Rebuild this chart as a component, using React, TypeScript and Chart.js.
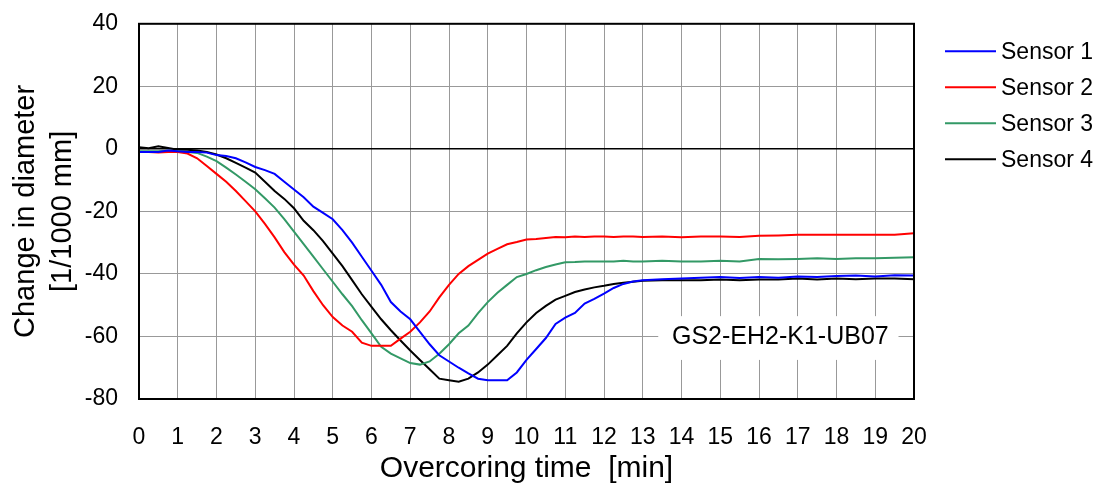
import React, { useEffect, useRef } from 'react';
import { Chart, registerables } from 'chart.js';

Chart.register(...registerables);

// ---- data ----
const timeMin = [
  0, 0.25, 0.5, 0.75, 1, 1.25, 1.5, 1.75, 2, 2.25, 2.5, 2.75, 3, 3.25, 3.5, 3.75,
  4, 4.25, 4.5, 4.75, 5, 5.25, 5.5, 5.75, 6, 6.25, 6.5, 6.75, 7, 7.25, 7.5, 7.75,
  8, 8.25, 8.5, 8.75, 9, 9.25, 9.5, 9.75, 10, 10.25, 10.5, 10.75, 11, 11.25, 11.5, 11.75,
  12, 12.25, 12.5, 12.75, 13, 13.5, 14, 14.5, 15, 15.5, 16, 16.5, 17, 17.5, 18, 18.5,
  19, 19.5, 20,
];

const sensor1 = [
  -1, -1, -1, -0.5, -0.8, -1, -1, -1.2, -2, -2.3, -3, -4.3, -5.8, -6.8, -8, -10.5,
  -13, -15.5, -18.5, -20.5, -22.5, -26, -30, -34.5, -39, -43.5, -49, -52, -54.5, -58.5, -62.5, -66,
  -68, -70, -71.8, -73.5, -74, -74, -74, -71.5, -67.5, -64, -60.5, -56, -54, -52.5, -49.5, -48,
  -46.3, -44.5, -43.2, -42.4, -42, -41.7, -41.5, -41.2, -41, -41.3, -41, -41.2, -40.8, -41, -40.7, -40.5,
  -40.8, -40.4, -40.5,
];

const sensor2 = [
  -1, -1, -1.2, -1, -1, -1.5, -3, -5.5, -8, -10.5, -13.5, -16.7, -20, -24, -28.3, -33,
  -37, -40.5, -45.5, -50, -53.8, -56.5, -58.5, -62, -63, -63, -63, -60.7, -58.5, -55.5, -52, -47.5,
  -43.5, -40, -37.5, -35.5, -33.5, -32, -30.5, -29.8, -29, -28.8, -28.5, -28.2, -28.3, -28, -28.2, -28,
  -28, -28.2, -28, -28, -28.2, -28, -28.3, -28, -28, -28.2, -27.8, -27.7, -27.5, -27.5, -27.5, -27.5,
  -27.5, -27.5, -27,
];

const sensor3 = [
  -0.8, -0.8, -0.8, -0.6, -0.8, -1, -1.3, -2.5, -3.9, -6, -8.2, -10.5, -12.9, -15.8, -18.8, -22.5,
  -26.5, -30.5, -34.5, -38.5, -42.5, -46.5, -50.3, -54.8, -59, -63.3, -65.5, -67, -68.5, -69, -68, -65.5,
  -62.5, -59, -56.5, -52.5, -49, -46, -43.5, -41, -40, -38.8, -37.8, -37, -36.3, -36.2, -36, -36,
  -36, -36, -35.8, -36, -36, -35.8, -36, -36, -35.8, -36, -35.2, -35.3, -35.2, -35, -35.2, -35,
  -35, -34.8, -34.7,
];

const sensor4 = [
  0.5, 0.2, 0.8, 0.3, -0.3, -0.3, -0.5, -1, -1.8, -3, -4.5, -6, -7.6, -10.5, -13.5, -16,
  -19, -23, -26, -29.5, -33.5, -37.5, -42, -46.5, -50.5, -54.5, -58, -61.3, -64.5, -67.5, -70.5, -73.5,
  -74, -74.5, -73.5, -71.5, -69, -66, -63, -59, -55.5, -52.5, -50.2, -48.2, -47, -45.8, -45, -44.3,
  -43.8, -43.2, -42.8, -42.5, -42.2, -42, -42, -42, -41.8, -42, -41.8, -41.8, -41.5, -41.8, -41.5, -41.7,
  -41.5, -41.5, -41.7,
];

const seriesLabels = ['Sensor 1', 'Sensor 2', 'Sensor 3', 'Sensor 4'];
const seriesValues = [sensor1, sensor2, sensor3, sensor4];
const seriesColors = ['#0000FF', '#FF0000', '#339966', '#000000'];

const X_MIN = 0;
const X_MAX = 20;
const X_STEP = 1;
const Y_MIN = -80;
const Y_MAX = 40;
const Y_STEP = 20;

const xAxisTitle = 'Overcoring time  [min]';
const yAxisTitle = ['Change in diameter', '[1/1000 mm]'];
const sampleLabel = 'GS2-EH2-K1-UB07';

const FONT = "'Liberation Sans', Arial, Helvetica, sans-serif";

// canvas is shifted up inside the page so the plot area starts where the reference's does
const CANVAS_SHIFT = 11;

// annotation box in data units (time, value)
const labelBox = { x0: 13.4, x1: 19.6, y0: -53.5, y1: -67.5, cx: 16.55, cy: -60.3 };

const framePlugin = {
  id: 'frame',
  beforeDatasetsDraw(chart: any) {
    const { ctx, scales } = chart;
    const xs = scales.x;
    const ys = scales.y;
    const l = xs.getPixelForValue(labelBox.x0);
    const r = xs.getPixelForValue(labelBox.x1);
    const t = ys.getPixelForValue(labelBox.y0);
    const b = ys.getPixelForValue(labelBox.y1);
    ctx.save();
    ctx.fillStyle = '#ffffff';
    ctx.fillRect(l, t, r - l, b - t);
    ctx.fillStyle = '#000';
    ctx.font = `25px ${FONT}`;
    ctx.textAlign = 'center';
    ctx.textBaseline = 'middle';
    ctx.fillText(sampleLabel, xs.getPixelForValue(labelBox.cx), ys.getPixelForValue(labelBox.cy));
    ctx.restore();
  },
  afterDatasetsDraw(chart: any) {
    const { ctx, chartArea } = chart;
    ctx.save();
    ctx.strokeStyle = '#000';
    ctx.lineWidth = 2;
    ctx.strokeRect(chartArea.left, chartArea.top, chartArea.right - chartArea.left, chartArea.bottom - chartArea.top);
    ctx.restore();
  },
  afterDraw(chart: any) {
    const { ctx, chartArea } = chart;
    const x0 = chartArea.right + 31;
    const lineLen = 51;
    const y0 = chartArea.top + 27.5;
    const step = 36;
    ctx.save();
    ctx.font = `23px ${FONT}`;
    ctx.textBaseline = 'middle';
    ctx.textAlign = 'left';
    chart.data.datasets.forEach((ds: any, i: number) => {
      const y = y0 + i * step;
      ctx.strokeStyle = ds.borderColor;
      ctx.lineWidth = 2;
      ctx.beginPath();
      ctx.moveTo(x0, y);
      ctx.lineTo(x0 + lineLen, y);
      ctx.stroke();
      ctx.fillStyle = '#000';
      ctx.fillText(ds.label, x0 + lineLen + 5, y + 1);
    });
    ctx.restore();
  },
};

export default function App() {
  const canvasRef = useRef<HTMLCanvasElement | null>(null);

  useEffect(() => {
    const canvas = canvasRef.current;
    if (!canvas) return;
    const chart = new Chart(canvas, {
      type: 'line',
      data: {
        datasets: seriesLabels.map((label, i) => ({
          label,
          data: timeMin.map((t, j) => ({ x: t, y: seriesValues[i][j] })),
          borderColor: seriesColors[i],
          backgroundColor: seriesColors[i],
          borderWidth: 2,
          pointRadius: 0,
          tension: 0,
          fill: false,
        })),
      },
      options: {
        animation: false,
        responsive: false,
        devicePixelRatio: 1,
        layout: { padding: { top: 8, right: 194, bottom: 0, left: 0 } },
        plugins: {
          legend: { display: false },
          tooltip: { enabled: false },
        },
        scales: {
          x: {
            type: 'linear',
            min: X_MIN,
            max: X_MAX,
            afterFit: (s: any) => { s.height = 90; },
            ticks: {
              stepSize: X_STEP,
              autoSkip: false,
              maxRotation: 0,
              color: '#000',
              padding: 25,
              font: { family: FONT, size: 23 },
            },
            grid: { color: '#999999', lineWidth: 1, drawTicks: false },
            border: { display: false },
            title: {
              display: true,
              text: xAxisTitle,
              color: '#000',
              font: { family: FONT, size: 30 },
              padding: { top: 0, bottom: 2 },
            },
          },
          y: {
            type: 'linear',
            min: Y_MIN,
            max: Y_MAX,
            afterFit: (s: any) => { s.width = 139; },
            ticks: {
              stepSize: Y_STEP,
              color: '#000',
              padding: 21,
              font: { family: FONT, size: 23 },
            },
            grid: {
              color: (c: any) => (c.tick && c.tick.value === 0 ? '#000000' : '#999999'),
              lineWidth: (c: any) => (c.tick && c.tick.value === 0 ? 1.5 : 1),
              drawTicks: false,
            },
            border: { display: false },
            title: {
              display: true,
              text: yAxisTitle,
              color: '#000',
              font: { family: FONT, size: 29, lineHeight: 1.28 },
              padding: { top: 7, bottom: 0 },
            },
          },
        },
      },
      plugins: [framePlugin],
    } as any);
    return () => chart.destroy();
  }, []);

  return (
    <div style={{ position: 'fixed', left: 0, top: 0, width: 1108, height: 489, background: '#fff', overflow: 'hidden' }}>
      <canvas
        ref={canvasRef}
        width={1108}
        height={489 + CANVAS_SHIFT}
        style={{ position: 'absolute', left: 0, top: -CANVAS_SHIFT }}
      />
    </div>
  );
}
